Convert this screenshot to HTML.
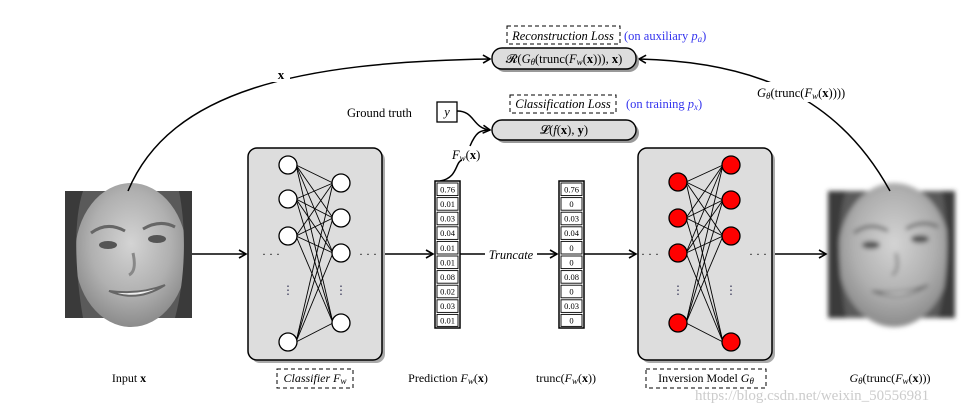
<!DOCTYPE html>
<html><head><meta charset="utf-8"><style>
html,body{margin:0;padding:0;background:#fff;width:976px;height:410px;overflow:hidden}
svg text{font-family:"Liberation Serif",serif;}
</style></head><body>
<svg width="976" height="410" viewBox="0 0 976 410" xmlns="http://www.w3.org/2000/svg">
<defs>
<marker id="ar" markerWidth="10" markerHeight="10" refX="8" refY="5" orient="auto" markerUnits="userSpaceOnUse">
<path d="M1,1 L8,5 L1,9" fill="none" stroke="#000" stroke-width="1.6"/>
</marker>
<radialGradient id="fg" cx="0.5" cy="0.42" r="0.6">
<stop offset="0" stop-color="#d4d4d4"/><stop offset="0.6" stop-color="#b0b0b0"/><stop offset="1" stop-color="#888"/>
</radialGradient>
<filter id="bl"><feGaussianBlur stdDeviation="2.5"/></filter>
<g id="face">
<rect x="0" y="0" width="127" height="127" fill="#5a5a5a"/>
<ellipse cx="66" cy="64" rx="56" ry="72" fill="url(#fg)"/>
<path d="M0,0 L18,0 C8,30 10,80 18,127 L0,127Z" fill="#3a3a3a"/>
<path d="M127,0 L114,0 C122,40 120,90 110,127 L127,127Z" fill="#3a3a3a"/>
<path d="M26,42 Q42,30 60,40" stroke="#666" stroke-width="3" fill="none"/>
<path d="M78,38 Q95,28 110,36" stroke="#666" stroke-width="3" fill="none"/>
<ellipse cx="43" cy="54" rx="9" ry="4" fill="#555"/>
<ellipse cx="92" cy="48" rx="9" ry="4" fill="#555"/>
<path d="M68,62 Q72,80 64,84" stroke="#888" stroke-width="3" fill="none"/>
<path d="M44,100 Q72,112 100,94 Q74,104 44,100Z" fill="#eee" stroke="#666" stroke-width="2"/>
</g>
</defs>

<use href="#face" x="65" y="191"/>
<g filter="url(#bl)"><use href="#face" x="828" y="191"/></g>

<path d="M128,191 C170,90 300,62 490,59" fill="none" stroke="#000" stroke-width="1.5" marker-end="url(#ar)"/>
<rect x="272" y="66" width="18" height="16" fill="#fff"/>
<text x="281" y="79" font-size="13" font-weight="bold" text-anchor="middle">x</text>
<path d="M890,191 C840,100 760,62 639,59" fill="none" stroke="#000" stroke-width="1.5" marker-end="url(#ar)"/>
<rect x="755" y="82" width="78" height="20" fill="#fff"/>
<text x="757" y="97" font-size="12.5"><tspan font-style="italic">G</tspan><tspan font-size="9" font-style="italic" dy="2">θ</tspan><tspan dy="-2">(trunc(</tspan><tspan font-style="italic">F</tspan><tspan font-size="9" font-style="italic" dy="2">w</tspan><tspan dy="-2">(</tspan><tspan font-weight="bold">x</tspan>))))</text>

<rect x="507" y="26" width="113" height="18" fill="none" stroke="#000" stroke-dasharray="4,3"/>
<text x="563" y="40" font-size="12.5" font-style="italic" text-anchor="middle">Reconstruction Loss</text>
<text x="624" y="40" font-size="12.5" fill="#3333ee">(on auxiliary <tspan font-style="italic">p</tspan><tspan font-size="9" font-style="italic" dy="2">a</tspan><tspan dy="-2">)</tspan></text>
<rect x="495" y="51" width="144" height="21" rx="10" fill="#999"/>
<rect x="492" y="48" width="144" height="21" rx="10" fill="#ddd" stroke="#000" stroke-width="1.4"/>
<text x="564" y="63" font-size="12.5" text-anchor="middle">𝓡(<tspan font-style="italic">G</tspan><tspan font-size="9" font-style="italic" dy="2">θ</tspan><tspan dy="-2">(trunc(</tspan><tspan font-style="italic">F</tspan><tspan font-size="9" font-style="italic" dy="2">w</tspan><tspan dy="-2">(</tspan><tspan font-weight="bold">x</tspan>))), <tspan font-weight="bold">x</tspan>)</text>

<rect x="510" y="95" width="106" height="18" fill="none" stroke="#000" stroke-dasharray="4,3"/>
<text x="563" y="108" font-size="12.5" font-style="italic" text-anchor="middle">Classification Loss</text>
<text x="626" y="108" font-size="12.5" fill="#3333ee">(on training <tspan font-style="italic">p</tspan><tspan font-size="9" font-style="italic" dy="2">x</tspan><tspan dy="-2">)</tspan></text>
<rect x="495" y="123" width="144" height="20" rx="10" fill="#999"/>
<rect x="492" y="120" width="144" height="20" rx="10" fill="#ddd" stroke="#000" stroke-width="1.4"/>
<text x="564" y="134" font-size="12.5" text-anchor="middle">𝓛(<tspan font-style="italic">f</tspan>(<tspan font-weight="bold">x</tspan>), <tspan font-weight="bold">y</tspan>)</text>

<text x="347" y="117" font-size="12.5">Ground truth</text>
<rect x="437" y="102" width="20" height="20" fill="#fff" stroke="#000" stroke-width="1.3"/>
<text x="447" y="116" font-size="12.5" font-style="italic" text-anchor="middle">y</text>
<path d="M457,111 C475,111 472,128 490,130" fill="none" stroke="#000" stroke-width="1.5" marker-end="url(#ar)"/>
<path d="M440,181 C458,178 455,162 462,160 M470,146 C476,132 480,130 490,130" fill="none" stroke="#000" stroke-width="1.5"/>
<text x="452" y="159" font-size="12.5"><tspan font-style="italic">F</tspan><tspan font-size="9" font-style="italic" dy="2">w</tspan><tspan dy="-2">(</tspan><tspan font-weight="bold">x</tspan>)</text>

<line x1="192" y1="254" x2="246" y2="254" stroke="#000" stroke-width="1.6" marker-end="url(#ar)"/>
<line x1="382" y1="254" x2="433" y2="254" stroke="#000" stroke-width="1.6" marker-end="url(#ar)"/>
<line x1="459" y1="254" x2="485" y2="254" stroke="#000" stroke-width="1.6"/>
<text x="511" y="259" font-size="12.5" font-style="italic" text-anchor="middle">Truncate</text>
<line x1="537" y1="254" x2="557" y2="254" stroke="#000" stroke-width="1.6" marker-end="url(#ar)"/>
<line x1="584" y1="254" x2="636" y2="254" stroke="#000" stroke-width="1.6" marker-end="url(#ar)"/>
<line x1="772" y1="254" x2="826" y2="254" stroke="#000" stroke-width="1.6" marker-end="url(#ar)"/>

<rect x="251" y="151" width="134" height="212" rx="9" fill="#aaa"/>
<rect x="248" y="148" width="134" height="212" rx="9" fill="#ddd" stroke="#000" stroke-width="1.5"/>
<g stroke="#000" stroke-width="0.9">
<line x1="296" y1="165" x2="333" y2="183"/><line x1="296" y1="165" x2="333" y2="218"/><line x1="296" y1="165" x2="333" y2="253"/><line x1="296" y1="165" x2="333" y2="323"/>
<line x1="296" y1="199" x2="333" y2="183"/><line x1="296" y1="199" x2="333" y2="218"/><line x1="296" y1="199" x2="333" y2="253"/><line x1="296" y1="199" x2="333" y2="323"/>
<line x1="296" y1="236" x2="333" y2="183"/><line x1="296" y1="236" x2="333" y2="218"/><line x1="296" y1="236" x2="333" y2="253"/><line x1="296" y1="236" x2="333" y2="323"/>
<line x1="296" y1="342" x2="333" y2="183"/><line x1="296" y1="342" x2="333" y2="218"/><line x1="296" y1="342" x2="333" y2="253"/><line x1="296" y1="342" x2="333" y2="323"/>
</g>
<g fill="#fff" stroke="#000" stroke-width="1.3">
<circle cx="288" cy="165" r="9"/><circle cx="288" cy="199" r="9"/><circle cx="288" cy="236" r="9"/><circle cx="288" cy="342" r="9"/>
<circle cx="341" cy="183" r="9"/><circle cx="341" cy="218" r="9"/><circle cx="341" cy="253" r="9"/><circle cx="341" cy="323" r="9"/>
</g>
<text x="262" y="258" font-size="12">· · ·</text>
<text x="359" y="258" font-size="12">· · ·</text>
<text x="288" y="294" font-size="12" fill="#335" text-anchor="middle">⋮</text>
<text x="341" y="294" font-size="12" fill="#335" text-anchor="middle">⋮</text>

<rect x="641" y="151" width="134" height="212" rx="9" fill="#aaa"/>
<rect x="638" y="148" width="134" height="212" rx="9" fill="#ddd" stroke="#000" stroke-width="1.5"/>
<g stroke="#000" stroke-width="0.9">
<line x1="686" y1="182" x2="723" y2="165"/><line x1="686" y1="182" x2="723" y2="200"/><line x1="686" y1="182" x2="723" y2="236"/><line x1="686" y1="182" x2="723" y2="342"/>
<line x1="686" y1="218" x2="723" y2="165"/><line x1="686" y1="218" x2="723" y2="200"/><line x1="686" y1="218" x2="723" y2="236"/><line x1="686" y1="218" x2="723" y2="342"/>
<line x1="686" y1="253" x2="723" y2="165"/><line x1="686" y1="253" x2="723" y2="200"/><line x1="686" y1="253" x2="723" y2="236"/><line x1="686" y1="253" x2="723" y2="342"/>
<line x1="686" y1="323" x2="723" y2="165"/><line x1="686" y1="323" x2="723" y2="200"/><line x1="686" y1="323" x2="723" y2="236"/><line x1="686" y1="323" x2="723" y2="342"/>
</g>
<g fill="#f00" stroke="#000" stroke-width="1.3">
<circle cx="678" cy="182" r="9"/><circle cx="678" cy="218" r="9"/><circle cx="678" cy="253" r="9"/><circle cx="678" cy="323" r="9"/>
<circle cx="731" cy="165" r="9"/><circle cx="731" cy="200" r="9"/><circle cx="731" cy="236" r="9"/><circle cx="731" cy="342" r="9"/>
</g>
<text x="641" y="258" font-size="12">· · ·</text>
<text x="749" y="258" font-size="12">· · ·</text>
<text x="678" y="294" font-size="12" fill="#335" text-anchor="middle">⋮</text>
<text x="731" y="294" font-size="12" fill="#335" text-anchor="middle">⋮</text>

<g font-size="8.5" text-anchor="middle">
<rect x="435" y="181" width="25" height="147" fill="#fff" stroke="#000" stroke-width="1.5"/>
<g fill="none" stroke="#000" stroke-width="0.9">
<rect x="437" y="183" width="21" height="12.6"/><rect x="437" y="197.6" width="21" height="12.6"/><rect x="437" y="212.2" width="21" height="12.6"/><rect x="437" y="226.8" width="21" height="12.6"/><rect x="437" y="241.4" width="21" height="12.6"/><rect x="437" y="256" width="21" height="12.6"/><rect x="437" y="270.6" width="21" height="12.6"/><rect x="437" y="285.2" width="21" height="12.6"/><rect x="437" y="299.8" width="21" height="12.6"/><rect x="437" y="314.4" width="21" height="12"/>
</g>
<text x="447.5" y="192.5">0.76</text><text x="447.5" y="207">0.01</text><text x="447.5" y="221.5">0.03</text><text x="447.5" y="236">0.04</text><text x="447.5" y="251">0.01</text><text x="447.5" y="265.5">0.01</text><text x="447.5" y="280">0.08</text><text x="447.5" y="294.5">0.02</text><text x="447.5" y="309">0.03</text><text x="447.5" y="323.5">0.01</text>
<rect x="559" y="181" width="25" height="147" fill="#fff" stroke="#000" stroke-width="1.5"/>
<g fill="none" stroke="#000" stroke-width="0.9">
<rect x="561" y="183" width="21" height="12.6"/><rect x="561" y="197.6" width="21" height="12.6"/><rect x="561" y="212.2" width="21" height="12.6"/><rect x="561" y="226.8" width="21" height="12.6"/><rect x="561" y="241.4" width="21" height="12.6"/><rect x="561" y="256" width="21" height="12.6"/><rect x="561" y="270.6" width="21" height="12.6"/><rect x="561" y="285.2" width="21" height="12.6"/><rect x="561" y="299.8" width="21" height="12.6"/><rect x="561" y="314.4" width="21" height="12"/>
</g>
<text x="571.5" y="192.5">0.76</text><text x="571.5" y="207">0</text><text x="571.5" y="221.5">0.03</text><text x="571.5" y="236">0.04</text><text x="571.5" y="251">0</text><text x="571.5" y="265.5">0</text><text x="571.5" y="280">0.08</text><text x="571.5" y="294.5">0</text><text x="571.5" y="309">0.03</text><text x="571.5" y="323.5">0</text>
</g>

<g font-size="12">
<text x="129" y="382" text-anchor="middle">Input <tspan font-weight="bold">x</tspan></text>
<rect x="277" y="369" width="76" height="19" fill="none" stroke="#000" stroke-dasharray="4,3"/>
<text x="315" y="382" text-anchor="middle" font-style="italic">Classifier F<tspan font-size="9" dy="2">w</tspan></text>
<text x="448" y="382" text-anchor="middle">Prediction <tspan font-style="italic">F</tspan><tspan font-size="9" font-style="italic" dy="2">w</tspan><tspan dy="-2">(</tspan><tspan font-weight="bold">x</tspan>)</text>
<text x="566" y="382" text-anchor="middle">trunc(<tspan font-style="italic">F</tspan><tspan font-size="9" font-style="italic" dy="2">w</tspan><tspan dy="-2">(</tspan><tspan font-weight="bold">x</tspan>))</text>
<rect x="646" y="369" width="120" height="19" fill="none" stroke="#000" stroke-dasharray="4,3"/>
<text x="706" y="382" text-anchor="middle">Inversion Model <tspan font-style="italic">G</tspan><tspan font-size="9" font-style="italic" dy="2">θ</tspan></text>
<text x="890" y="382" text-anchor="middle"><tspan font-style="italic">G</tspan><tspan font-size="9" font-style="italic" dy="2">θ</tspan><tspan dy="-2">(trunc(</tspan><tspan font-style="italic">F</tspan><tspan font-size="9" font-style="italic" dy="2">w</tspan><tspan dy="-2">(</tspan><tspan font-weight="bold">x</tspan>)))</text>
</g>
<text x="695" y="400" font-size="15" fill="#ccc" font-family="Liberation Sans, sans-serif">https://blog.csdn.net/weixin_50556981</text>
</svg>
</body></html>
